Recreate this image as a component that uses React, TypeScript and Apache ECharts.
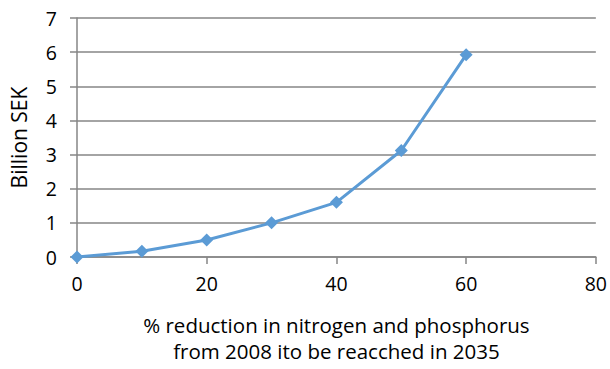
import React, { useEffect, useRef } from "react";
import * as echarts from "echarts";

const reductionPct = [0, 10, 20, 30, 40, 50, 60];
const costBillionSEK = [0, 0.17, 0.5, 1.0, 1.6, 3.12, 5.92];
const xTitle = "% reduction in nitrogen and phosphorus\nfrom 2008 ito be reacched in 2035";
const yTitle = "Billion SEK";

export default function App() {
  const ref = useRef<HTMLDivElement>(null);
  useEffect(() => {
    if (!ref.current) return;
    const chart = echarts.init(ref.current, undefined, { renderer: "svg" });
    const font = "'Open Sans', 'DejaVu Sans', sans-serif";
    chart.setOption({
      animation: false,
      backgroundColor: "#ffffff",
      grid: { left: 73, top: 18, right: 13, bottom: 107, containLabel: false },
      xAxis: {
        type: "value",
        min: 0,
        max: 80,
        interval: 20,
        name: xTitle,
        nameLocation: "middle",
        nameGap: 55,
        nameTextStyle: { fontFamily: font, fontSize: 20.5, color: "#000", lineHeight: 26 },
        axisLine: { show: true, lineStyle: { color: "#868686", width: 1.5 } },
        axisTick: { show: true, length: 7, lineStyle: { color: "#868686", width: 1.5 } },
        axisLabel: { fontFamily: font, fontSize: 19.5, color: "#000", margin: 16 },
        splitLine: { show: false },
      },
      yAxis: {
        type: "value",
        min: 0,
        max: 7,
        interval: 1,
        name: yTitle,
        nameLocation: "middle",
        nameGap: 48,
        nameRotate: 90,
        nameTextStyle: { fontFamily: font, fontSize: 21, color: "#000" },
        axisLine: { show: true, lineStyle: { color: "#868686", width: 1.5 } },
        axisTick: { show: true, length: 7, lineStyle: { color: "#868686", width: 1.5 } },
        axisLabel: { fontFamily: font, fontSize: 19.5, color: "#000", margin: 20 },
        splitLine: { show: true, lineStyle: { color: "#868686", width: 1.5 } },
      },
      series: [
        {
          type: "line",
          data: reductionPct.map((x, i) => [x, costBillionSEK[i]]),
          symbol: "diamond",
          symbolSize: 13,
          lineStyle: { color: "#5B9BD5", width: 3 },
          itemStyle: { color: "#5B9BD5" },
        },
      ],
    });
    return () => chart.dispose();
  }, []);
  return (
    <div
      ref={ref}
      style={{ position: "absolute", left: 0, top: 0, width: 610, height: 369 }}
    />
  );
}
